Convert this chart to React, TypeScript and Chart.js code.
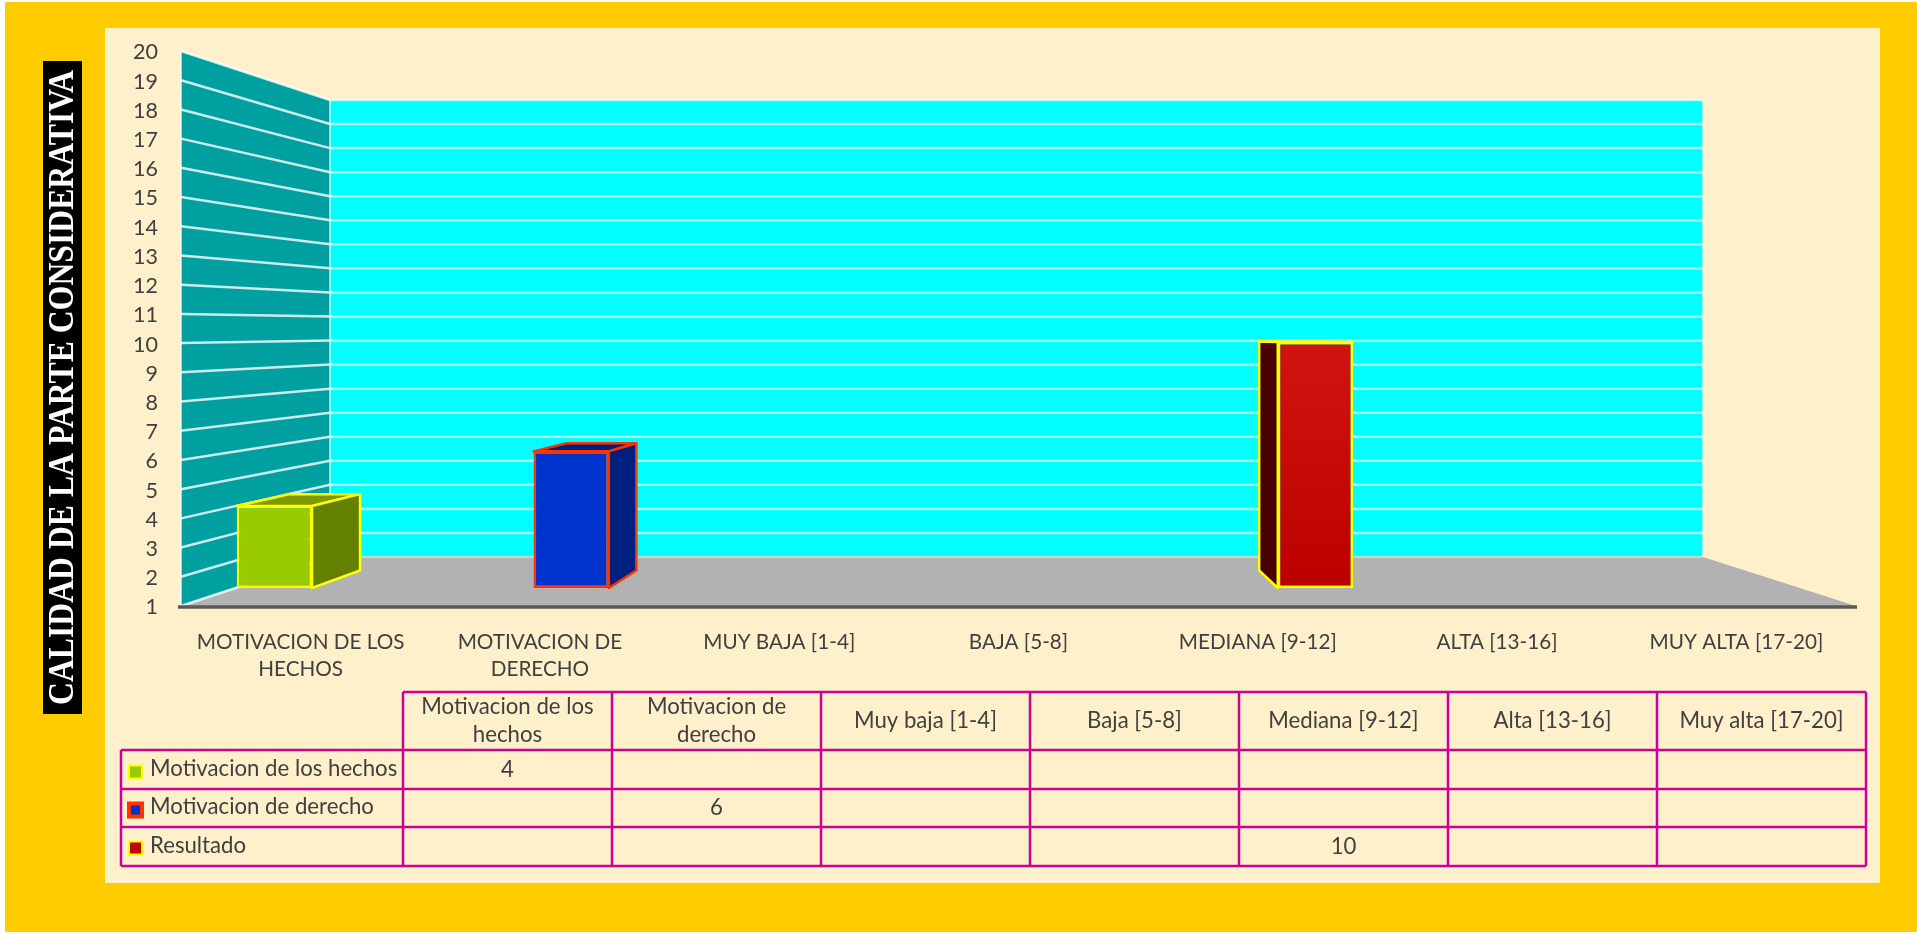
import React, { useEffect, useRef } from "react";
import { Chart, registerables } from "chart.js";

Chart.register(...registerables);

// ---- data ----
const categories = [
  ["MOTIVACION DE LOS", "HECHOS"],
  ["MOTIVACION DE", "DERECHO"],
  "MUY BAJA [1-4]",
  "BAJA [5-8]",
  "MEDIANA [9-12]",
  "ALTA [13-16]",
  "MUY ALTA [17-20]",
];
const tableHeaders = [
  ["Motivacion de los", "hechos"],
  ["Motivacion de", "derecho"],
  ["Muy baja [1-4]"],
  ["Baja [5-8]"],
  ["Mediana [9-12]"],
  ["Alta [13-16]"],
  ["Muy alta [17-20]"],
];
const seriesNames = ["Motivacion de los hechos", "Motivacion de derecho", "Resultado"];
const motivacionHechos = [4, null, null, null, null, null, null];
const motivacionDerecho = [null, 6, null, null, null, null, null];
const resultado = [null, null, null, null, 10, null, null];
const yMin = 1;
const yMax = 20;
const yStep = 1;
const axisTitle = "CALIDAD DE LA PARTE CONSIDERATIVA";

// ---- styles ----
const TEXT = "#404040";
const FONT = "Lato";
const seriesStyles = [
  { front: "#99CC00", side: "#648000", top: "#7F9900", border: "#FFFF00", keyBorder: 2, keyShift: 2.5 },
  { front: "#0033CC", side: "#00207F", top: "#00207F", border: "#FF3300", keyBorder: 4, keyShift: 2 },
  { front: "#C00000", side: "#480000", top: "#480000", border: "#FFFF00", keyBorder: 2, keyShift: 1.5 },
];

// ---- layout of the 3D frame ----
const LABEL_SHIFT = 1.5;
const FRONT = { left: 181, right: 1856, bottom: 606, top: 51 };
const BACK = { left: 330, right: 1703, bottom: 557, top: 100 };
const BARPLANE = { left: 235.6, right: 1801.6, bottom: 588, top: 68.7 };
const VP = { x: 1008, y: 334 };
const DEPTH = 0.069;
const TABLE = {
  left: 121,
  firstCol: 403,
  colW: 209,
  rows: [692, 750, 789, 827, 866],
};

const placeY = (s: any, top: number, bottom: number) => {
  s.top = top;
  s.bottom = bottom;
  s.height = bottom - top;
  s.configure();
};

const framePlugin = {
  id: "frame",
  beforeDraw(chart: any) {
    const c = chart.ctx;
    c.save();
    c.fillStyle = "#FFFFFF";
    c.fillRect(0, 0, 1917, 934);
    c.fillStyle = "#FFCC00";
    c.fillRect(5, 2, 1912, 930);
    c.fillStyle = "#FFF0CC";
    c.fillRect(105, 28, 1775, 855);
    c.fillStyle = "#000000";
    c.fillRect(43, 61, 39, 653);
    c.restore();
  },
  afterLayout(chart: any) {
    const xb = chart.scales.xBars;
    xb.left = BARPLANE.left;
    xb.right = BARPLANE.right;
    xb.width = BARPLANE.right - BARPLANE.left;
    xb.configure();
    placeY(chart.scales.yBars, BARPLANE.top, BARPLANE.bottom);
    placeY(chart.scales.yBack, BACK.top, BACK.bottom);
    placeY(chart.scales.yFront, FRONT.top, FRONT.bottom);
    placeY(chart.scales.y, FRONT.top + LABEL_SHIFT, FRONT.bottom + LABEL_SHIFT);
  },
  beforeDatasetsDraw(chart: any) {
    const c = chart.ctx;
    const yF = chart.scales.yFront;
    const yB = chart.scales.yBack;
    const poly = (pts: number[][], fill: string) => {
      c.beginPath();
      pts.forEach((p, i) => (i ? c.lineTo(p[0], p[1]) : c.moveTo(p[0], p[1])));
      c.closePath();
      c.fillStyle = fill;
      c.fill();
    };
    c.save();
    poly([[FRONT.left, FRONT.top], [BACK.left, BACK.top], [BACK.left, BACK.bottom], [FRONT.left, FRONT.bottom]], "#00A0A0");
    poly([[BACK.left, BACK.top], [BACK.right, BACK.top], [BACK.right, BACK.bottom], [BACK.left, BACK.bottom]], "#00FFFF");
    poly([[BACK.left, BACK.bottom], [BACK.right, BACK.bottom], [FRONT.right, FRONT.bottom], [FRONT.left, FRONT.bottom]], "#B2B2B2");

    for (let v = yMin; v <= yMax; v += yStep) {
      const yf = yF.getPixelForValue(v);
      const yb = yB.getPixelForValue(v);
      c.lineWidth = 2.5;
      c.strokeStyle = "rgba(255,255,255,0.8)";
      c.beginPath();
      c.moveTo(FRONT.left, yf);
      c.lineTo(BACK.left, yb);
      c.stroke();
      c.strokeStyle = v === yMin ? "rgba(210,210,210,0.9)" : "rgba(255,255,255,0.65)";
      c.beginPath();
      c.moveTo(BACK.left, yb);
      c.lineTo(BACK.right, yb);
      c.stroke();
    }
    c.lineWidth = 1.5;
    c.strokeStyle = "rgba(255,255,255,0.8)";
    c.beginPath();
    c.moveTo(FRONT.left, FRONT.bottom);
    c.lineTo(FRONT.left, FRONT.top);
    c.moveTo(BACK.left, BACK.top);
    c.lineTo(BACK.left, BACK.bottom);
    c.moveTo(BACK.right, BACK.top);
    c.lineTo(BACK.right, BACK.bottom);
    c.stroke();

    // front floor edge
    c.lineWidth = 3.5;
    c.strokeStyle = "#5A5A5A";
    c.beginPath();
    c.moveTo(FRONT.left - 3, FRONT.bottom + 1);
    c.lineTo(FRONT.right + 1, FRONT.bottom + 1);
    c.stroke();

    // extruded faces of the bars, from the bar elements themselves
    chart.data.datasets.forEach((ds: any, di: number) => {
      const meta = chart.getDatasetMeta(di);
      const st = seriesStyles[di];
      meta.data.forEach((bar: any, i: number) => {
        if (ds.data[i] == null) return;
        const xL = bar.x - bar.width / 2;
        const xR = bar.x + bar.width / 2;
        const back = (x: number, y: number) => [x + (VP.x - x) * DEPTH, y + (VP.y - y) * DEPTH];
        const face = (pts: number[][], fill: string) => {
          poly(pts, fill);
          c.lineWidth = 2.5;
          c.lineJoin = "round";
          c.strokeStyle = st.border;
          c.stroke();
        };
        face([[xL, bar.y], [xR, bar.y], back(xR, bar.y), back(xL, bar.y)], st.top);
        const sx = bar.x < VP.x ? xR : xL;
        face([[sx, bar.y], back(sx, bar.y), back(sx, bar.base), [sx, bar.base]], st.side);
      });
    });
    c.restore();
  },
  afterDraw(chart: any) {
    const c = chart.ctx;
    c.save();
    // rotated title, squeezed along its reading direction as in the picture
    c.translate(63, 387.5);
    c.rotate(-Math.PI / 2);
    c.fillStyle = "#FFFFFF";
    c.font = 'bold 35px "Liberation Serif"';
    c.textAlign = "center";
    c.textBaseline = "middle";
    c.fillText(axisTitle, 0, 1, 635);
    c.restore();

    // data table
    const T = TABLE;
    const right = T.firstCol + T.colW * categories.length;
    c.save();
    c.strokeStyle = "#CC0099";
    c.lineWidth = 2.5;
    c.beginPath();
    T.rows.forEach((y, i) => {
      c.moveTo(i === 0 ? T.firstCol : T.left, y);
      c.lineTo(right, y);
    });
    c.moveTo(T.left, T.rows[1]);
    c.lineTo(T.left, T.rows[4]);
    for (let i = 0; i <= categories.length; i++) {
      const x = T.firstCol + T.colW * i;
      c.moveTo(x, T.rows[0]);
      c.lineTo(x, T.rows[4]);
    }
    c.stroke();

    c.font = `22.2px ${FONT}`;
    c.fillStyle = TEXT;
    c.textBaseline = "middle";
    c.textAlign = "center";
    tableHeaders.forEach((lines, i) => {
      const cx = T.firstCol + T.colW * (i + 0.5);
      const mid = (T.rows[0] + T.rows[1]) / 2;
      lines.forEach((l, j) => {
        c.fillText(l, cx, mid + (j - (lines.length - 1) / 2) * 27.5);
      });
    });
    chart.data.datasets.forEach((ds: any, di: number) => {
      const st = seriesStyles[di];
      const mid = (T.rows[di + 1] + T.rows[di + 2]) / 2;
      c.textAlign = "left";
      c.fillStyle = TEXT;
      c.fillText(seriesNames[di], 150, mid - 1);
      c.textAlign = "center";
      ds.data.forEach((v: number | null, i: number) => {
        if (v != null) c.fillText(String(v), T.firstCol + T.colW * (i + 0.5), mid);
      });
      const k = 13;
      const cy = mid + st.keyShift;
      c.fillStyle = st.front;
      c.fillRect(135.5 - k / 2, cy - k / 2, k, k);
      c.strokeStyle = st.border;
      c.lineWidth = st.keyBorder;
      c.strokeRect(135.5 - k / 2, cy - k / 2, k, k);
    });
    c.restore();
  },
};

export default function App() {
  const ref = useRef<HTMLCanvasElement | null>(null);
  useEffect(() => {
    if (!ref.current) return;
    const common = { type: "bar", xAxisID: "xBars", yAxisID: "yBars", base: yMin, borderWidth: 2.5, borderSkipped: false };
    // an empty slot keeps its place in the group but draws no outline
    const border = (color: string) => (ctx: any) => (ctx.raw == null ? "rgba(0,0,0,0)" : color);
    const chart = new Chart(ref.current, {
      type: "bar",
      data: {
        labels: categories as any,
        datasets: [
          { ...common, label: seriesNames[0], data: motivacionHechos, backgroundColor: seriesStyles[0].front, borderColor: border(seriesStyles[0].border) },
          { ...common, label: seriesNames[1], data: motivacionDerecho, backgroundColor: seriesStyles[1].front, borderColor: border(seriesStyles[1].border) },
          {
            ...common,
            label: seriesNames[2],
            data: resultado,
            borderColor: border(seriesStyles[2].border),
            backgroundColor: (ctx: any) => {
              const s = ctx.chart.scales.yBars;
              const a = s ? s.getPixelForValue(10) : NaN;
              const b = s ? s.getPixelForValue(yMin) : NaN;
              if (!isFinite(a) || !isFinite(b)) return seriesStyles[2].front;
              const g = ctx.chart.ctx.createLinearGradient(0, a, 0, b);
              g.addColorStop(0, "#D2140F");
              g.addColorStop(1, "#BB0000");
              return g;
            },
          },
        ] as any,
      },
      options: {
        responsive: false,
        animation: false,
        devicePixelRatio: 1,
        layout: { padding: { left: 0, top: FRONT.top, right: 1917 - FRONT.right, bottom: 0 } },
        plugins: { legend: { display: false }, title: { display: false }, tooltip: { enabled: false } },
        datasets: { bar: { barPercentage: 1.03, categoryPercentage: 0.98 } },
        scales: {
          x: {
            type: "category",
            offset: true,
            grid: { display: false, drawTicks: false },
            border: { display: false },
            afterFit: (s: any) => {
              s.height = 934 - FRONT.bottom;
            },
            ticks: {
              autoSkip: false,
              maxRotation: 0,
              minRotation: 0,
              padding: 22,
              color: TEXT,
              font: { family: FONT, size: 20.7, lineHeight: 1.34 },
            },
          },
          xBars: { type: "category", offset: true, display: false },
          y: {
            type: "linear",
            min: yMin,
            max: yMax,
            grid: { display: false, drawTicks: false },
            border: { display: false },
            afterFit: (s: any) => {
              s.width = FRONT.left;
            },
            ticks: { stepSize: yStep, autoSkip: false, padding: 23, color: TEXT, font: { family: FONT, size: 21.5 } },
          },
          yBars: { type: "linear", min: yMin, max: yMax, display: false },
          yBack: { type: "linear", min: yMin, max: yMax, display: false },
          yFront: { type: "linear", min: yMin, max: yMax, display: false },
        },
      } as any,
      plugins: [framePlugin as any],
    });
    return () => chart.destroy();
  }, []);
  return (
    <div style={{ position: "absolute", left: 0, top: 0, width: 1917, height: 934, overflow: "hidden" }}>
      <canvas ref={ref} width={1917} height={934} style={{ display: "block" }} />
    </div>
  );
}
